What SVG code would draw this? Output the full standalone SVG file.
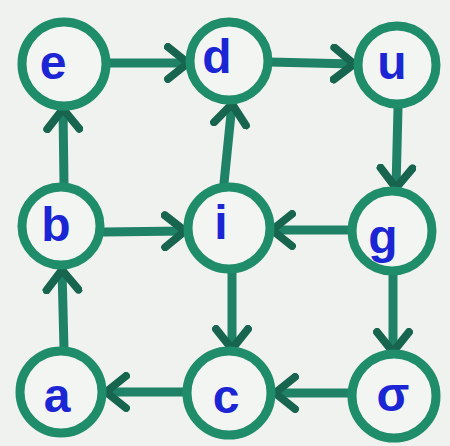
<svg xmlns="http://www.w3.org/2000/svg" width="450" height="446" viewBox="0 0 450 446">
  <style>
    .ring { fill: #f3f5f2; stroke: #1f8c6a; stroke-width: 9; }
    .lbl { font-family: "Liberation Sans", Arial, sans-serif; font-weight: bold; font-size: 48px; fill: #1c25d4; text-anchor: middle; dominant-baseline: central; }
    .edge { stroke: #1f8266; stroke-width: 9; stroke-linecap: round; fill: none; marker-end: url(#chev); }
  </style>
  <defs>
    <marker id="chev" markerUnits="userSpaceOnUse" viewBox="-24 -20 28 40" markerWidth="28" markerHeight="40" refX="0" refY="0" orient="auto">
      <path d="M-20,-16 L0,0 L-20,16" fill="none" stroke="#17654f" stroke-width="8" stroke-linecap="round" stroke-linejoin="round"/>
    </marker>
  </defs>
  <rect width="450" height="446" fill="#eff2ee"/>

  <g id="connectors">
    <line class="edge" x1="110" y1="63" x2="188" y2="63"/>
    <line class="edge" x1="269" y1="62" x2="354" y2="64"/>
    <line class="edge" x1="64" y1="184" x2="63" y2="109"/>
    <line class="edge" x1="64" y1="349" x2="62" y2="270"/>
    <line class="edge" x1="224" y1="183" x2="232" y2="104"/>
    <line class="edge" x1="104" y1="232" x2="185" y2="231"/>
    <line class="edge" x1="350" y1="230" x2="272" y2="230"/>
    <line class="edge" x1="398" y1="108" x2="396" y2="188"/>
    <line class="edge" x1="393" y1="273" x2="393" y2="352"/>
    <line class="edge" x1="232" y1="272" x2="232" y2="349"/>
    <line class="edge" x1="185" y1="392" x2="106" y2="392"/>
    <line class="edge" x1="350" y1="393" x2="275" y2="393"/>
  </g>

  <g id="node-e"><circle class="ring" cx="64" cy="64" r="42"/><text class="lbl" x="53" y="62">e</text></g>
  <g id="node-d"><circle class="ring" cx="229" cy="61" r="39"/><text class="lbl" x="217" y="56">d</text></g>
  <g id="node-u"><circle class="ring" cx="397" cy="65" r="39"/><text class="lbl" x="392" y="62">u</text></g>
  <g id="node-b"><circle class="ring" cx="61" cy="226" r="39"/><text class="lbl" x="56" y="224">b</text></g>
  <g id="node-i"><circle class="ring" cx="229" cy="228" r="41"/><text class="lbl" x="221" y="222">i</text></g>
  <g id="node-g"><circle class="ring" cx="392" cy="231" r="40"/><text class="lbl" x="383" y="236">g</text></g>
  <g id="node-a"><circle class="ring" cx="61" cy="392" r="41"/><text class="lbl" x="57" y="395">a</text></g>
  <g id="node-c"><circle class="ring" cx="229" cy="393" r="42"/><text class="lbl" x="226" y="396">c</text></g>
  <g id="node-s"><circle class="ring" cx="394" cy="396" r="42"/><text class="lbl" x="393" y="394">σ</text></g>
</svg>
